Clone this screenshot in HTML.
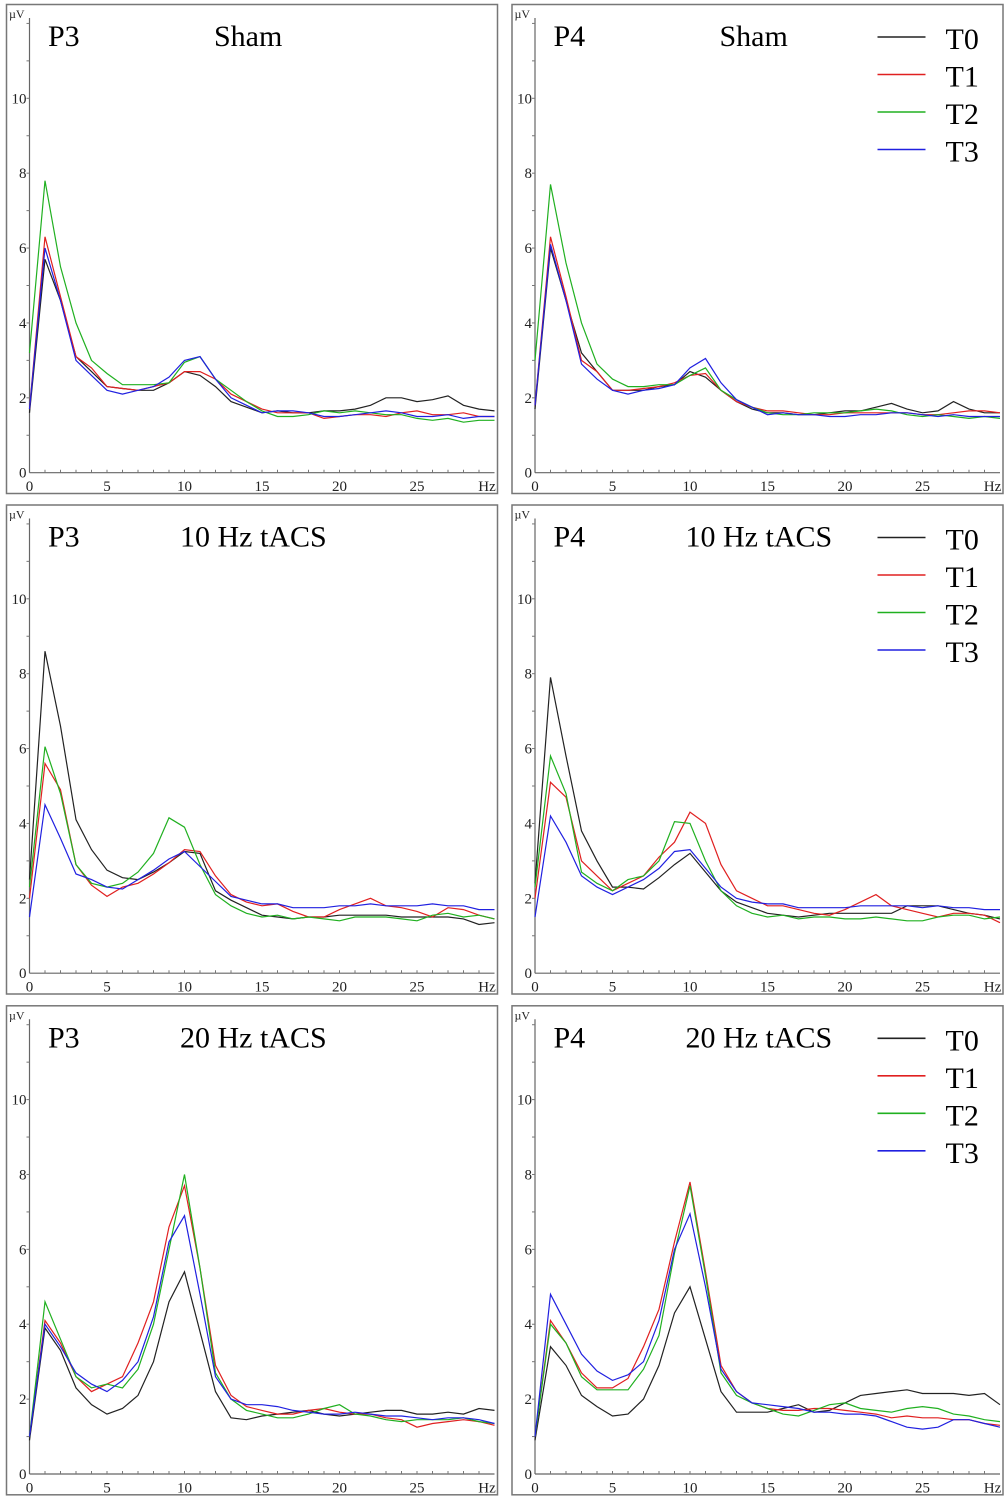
<!DOCTYPE html>
<html><head><meta charset="utf-8">
<style>
html,body{margin:0;padding:0;background:#fff;}
svg{display:block;font-family:"Liberation Serif","Times New Roman",serif;}
text{font-family:"Liberation Serif","Times New Roman",serif;}
</style></head>
<body>
<svg id="chart" width="1005" height="1501" viewBox="0 0 1005 1501" font-family="Liberation Serif, serif"></svg>
<script>
const freqs = [0,1,2,3,4,5,6,7,8,9,10,11,12,13,14,15,16,17,18,19,20,21,22,23,24,25,26,27,28,29,30];
const xTicks = [0,5,10,15,20,25];
const yTicks = [0,2,4,6,8,10];
const seriesNames = ["T0","T1","T2","T3"];
const seriesColors = ["#222222","#e02020","#20b020","#2020e0"];

const p3ShamT0 = [1.6,5.7,4.6,3.1,2.7,2.3,2.25,2.2,2.2,2.4,2.7,2.6,2.3,1.9,1.75,1.6,1.65,1.6,1.6,1.65,1.65,1.7,1.8,2.0,2.0,1.9,1.95,2.05,1.8,1.7,1.65];
const p3ShamT1 = [1.7,6.3,4.7,3.1,2.8,2.3,2.25,2.2,2.3,2.4,2.7,2.7,2.5,2.1,1.9,1.7,1.6,1.6,1.6,1.45,1.5,1.55,1.55,1.5,1.6,1.65,1.55,1.55,1.6,1.5,1.5];
const p3ShamT2 = [3.2,7.8,5.5,4.0,3.0,2.65,2.35,2.35,2.35,2.4,2.95,3.1,2.5,2.2,1.9,1.65,1.5,1.5,1.55,1.65,1.6,1.65,1.6,1.55,1.55,1.45,1.4,1.45,1.35,1.4,1.4];
const p3ShamT3 = [1.7,6.0,4.6,3.0,2.6,2.2,2.1,2.2,2.3,2.55,3.0,3.1,2.5,2.0,1.8,1.6,1.65,1.65,1.6,1.5,1.5,1.55,1.6,1.65,1.6,1.5,1.5,1.55,1.45,1.5,1.5];

const p4ShamT0 = [1.7,6.0,4.6,3.2,2.7,2.2,2.2,2.2,2.3,2.35,2.7,2.55,2.2,1.9,1.7,1.6,1.6,1.55,1.55,1.6,1.65,1.65,1.75,1.85,1.7,1.6,1.65,1.9,1.7,1.6,1.6];
const p4ShamT1 = [1.8,6.3,4.7,3.0,2.7,2.2,2.2,2.25,2.3,2.4,2.6,2.65,2.2,1.9,1.75,1.65,1.65,1.6,1.55,1.55,1.6,1.6,1.6,1.6,1.6,1.55,1.55,1.6,1.65,1.65,1.6];
const p4ShamT2 = [3.0,7.7,5.6,4.0,2.9,2.5,2.3,2.3,2.35,2.35,2.6,2.8,2.2,1.95,1.75,1.6,1.55,1.55,1.6,1.6,1.6,1.65,1.7,1.65,1.55,1.5,1.55,1.5,1.45,1.5,1.45];
const p4ShamT3 = [1.8,6.1,4.6,2.9,2.5,2.2,2.1,2.2,2.25,2.35,2.8,3.05,2.4,1.95,1.75,1.55,1.6,1.55,1.55,1.5,1.5,1.55,1.55,1.6,1.6,1.55,1.5,1.55,1.5,1.5,1.5];

const p310T0 = [2.5,8.6,6.6,4.1,3.3,2.75,2.55,2.5,2.7,2.95,3.25,3.2,2.2,1.95,1.75,1.55,1.5,1.45,1.5,1.5,1.55,1.55,1.55,1.55,1.5,1.5,1.5,1.5,1.45,1.3,1.35];
const p310T1 = [2.0,5.6,4.9,2.9,2.35,2.05,2.3,2.4,2.65,2.95,3.3,3.25,2.6,2.1,1.9,1.8,1.85,1.65,1.5,1.5,1.7,1.85,2.0,1.8,1.75,1.65,1.5,1.75,1.7,1.55,1.45];
const p310T2 = [2.3,6.05,4.8,2.9,2.4,2.3,2.4,2.7,3.2,4.15,3.9,2.9,2.1,1.8,1.6,1.5,1.55,1.45,1.5,1.45,1.4,1.5,1.5,1.5,1.45,1.4,1.55,1.6,1.5,1.55,1.45];
const p310T3 = [1.5,4.5,3.6,2.65,2.5,2.3,2.25,2.5,2.75,3.05,3.25,2.85,2.45,2.05,1.95,1.85,1.85,1.75,1.75,1.75,1.8,1.8,1.85,1.8,1.8,1.8,1.85,1.8,1.8,1.7,1.7];

const p410T0 = [2.4,7.9,5.8,3.8,3.0,2.3,2.3,2.25,2.55,2.9,3.2,2.7,2.2,1.9,1.75,1.6,1.55,1.5,1.55,1.6,1.6,1.6,1.6,1.6,1.8,1.8,1.8,1.7,1.6,1.55,1.45];
const p410T1 = [2.0,5.1,4.7,3.0,2.6,2.2,2.4,2.6,3.1,3.5,4.3,4.0,2.9,2.2,2.0,1.8,1.8,1.7,1.6,1.55,1.7,1.9,2.1,1.8,1.7,1.6,1.5,1.6,1.6,1.55,1.35];
const p410T2 = [2.3,5.8,4.8,2.7,2.4,2.2,2.5,2.6,3.0,4.05,4.0,3.0,2.2,1.8,1.6,1.5,1.55,1.45,1.5,1.5,1.45,1.45,1.5,1.45,1.4,1.4,1.5,1.55,1.55,1.45,1.5];
const p410T3 = [1.5,4.2,3.5,2.6,2.3,2.1,2.3,2.5,2.8,3.25,3.3,2.8,2.3,2.0,1.9,1.85,1.85,1.75,1.75,1.75,1.75,1.8,1.8,1.8,1.8,1.75,1.8,1.75,1.75,1.7,1.7];

const p320T0 = [0.9,3.9,3.3,2.3,1.85,1.6,1.75,2.1,3.0,4.6,5.4,3.8,2.2,1.5,1.45,1.55,1.6,1.65,1.7,1.6,1.55,1.6,1.65,1.7,1.7,1.6,1.6,1.65,1.6,1.75,1.7];
const p320T1 = [1.0,4.1,3.5,2.6,2.2,2.4,2.6,3.5,4.6,6.6,7.7,5.5,2.9,2.1,1.8,1.7,1.6,1.6,1.7,1.75,1.65,1.6,1.6,1.5,1.45,1.25,1.35,1.4,1.45,1.4,1.3];
const p320T2 = [1.0,4.6,3.6,2.6,2.3,2.4,2.3,2.8,4.0,6.0,8.0,5.5,2.7,2.0,1.7,1.6,1.5,1.5,1.6,1.75,1.85,1.6,1.55,1.45,1.4,1.45,1.45,1.45,1.5,1.4,1.35];
const p320T3 = [1.0,4.0,3.4,2.7,2.4,2.2,2.5,3.0,4.2,6.2,6.9,4.8,2.6,2.0,1.85,1.85,1.8,1.7,1.65,1.6,1.6,1.65,1.6,1.55,1.55,1.5,1.45,1.5,1.5,1.45,1.35];

const p420T0 = [0.9,3.4,2.9,2.1,1.8,1.55,1.6,2.0,2.9,4.3,5.0,3.6,2.2,1.65,1.65,1.65,1.75,1.85,1.65,1.7,1.9,2.1,2.15,2.2,2.25,2.15,2.15,2.15,2.1,2.15,1.85];
const p420T1 = [1.0,4.1,3.5,2.7,2.3,2.3,2.55,3.4,4.4,6.2,7.8,5.4,2.9,2.2,1.9,1.75,1.7,1.7,1.75,1.75,1.7,1.65,1.6,1.5,1.55,1.5,1.5,1.45,1.45,1.35,1.3];
const p420T2 = [1.0,4.0,3.5,2.6,2.25,2.25,2.25,2.8,3.7,5.9,7.7,5.3,2.7,2.1,1.9,1.75,1.6,1.55,1.7,1.85,1.9,1.75,1.7,1.65,1.75,1.8,1.75,1.6,1.55,1.45,1.4];
const p420T3 = [1.0,4.8,4.0,3.2,2.75,2.5,2.65,3.0,4.1,6.0,6.95,5.0,2.8,2.2,1.9,1.85,1.8,1.75,1.65,1.65,1.6,1.6,1.55,1.4,1.25,1.2,1.25,1.45,1.45,1.35,1.25];

const NS = "http://www.w3.org/2000/svg";
const svg = document.getElementById("chart");
const FF = '"Liberation Serif", serif';
function mk(tag, attrs, parent, txt){
  const e = document.createElementNS(NS, tag);
  for (const k in attrs) e.setAttribute(k, attrs[k]);
  if (txt !== undefined) { e.textContent = txt; e.style.fontFamily = FF; }
  parent.appendChild(e);
  return e;
}
const X0 = 29.5, PXHZ = 15.5, Y0 = 472.7, PXUV = 37.44;
function xs(ox, f){ return ox + X0 + f*PXHZ; }
function ys(oy, v){ return oy + Y0 - v*PXUV; }

function panel(ox, oy, chan, cond, series, legend, id){
  const g = mk("g", {}, svg);
  
  
  const frame = mk("rect", {x:ox+6.5, y:oy+4.5, width:491, height:489, fill:"none", stroke:"#777", "stroke-width":1.5}, g);
  
  
  const yax = mk("line", {x1:xs(ox,0), y1:oy+18, x2:xs(ox,0), y2:ys(oy,0), stroke:"#666", "stroke-width":1.2}, g);
  
  
  const xax = mk("line", {x1:xs(ox,0), y1:ys(oy,0), x2:xs(ox,30), y2:ys(oy,0), stroke:"#666", "stroke-width":1.2}, g);
  
  
  for (let f=1; f<30; f++){
    mk("line", {x1:xs(ox,f), y1:ys(oy,0), x2:xs(ox,f), y2:ys(oy,0)-3, stroke:"#777", "stroke-width":1}, g);
  }
  for (let v=1; v<=12; v++){
    mk("line", {x1:xs(ox,0), y1:ys(oy,v), x2:xs(ox,0)-3, y2:ys(oy,v), stroke:"#777", "stroke-width":1}, g);
  }
  xTicks.forEach(t=>{
    const l = mk("text", {x:xs(ox,t), y:oy+491, "font-size":15, "text-anchor":"middle", fill:"#222"}, g, String(t));
    
    
  });
  const hz = mk("text", {x:ox+487, y:oy+491, "font-size":15, "text-anchor":"middle", fill:"#222"}, g, "Hz");
  
  
  yTicks.forEach(t=>{
    const l = mk("text", {x:xs(ox,0)-3, y:ys(oy,t)+5, "font-size":15, "text-anchor":"end", fill:"#222"}, g, String(t));
    
    
  });
  const uv = mk("text", {x:ox+9, y:oy+18, "font-size":12, fill:"#222"}, g, "µV");
  
  
  const t1 = mk("text", {x:ox+48, y:oy+46, "font-size":30, fill:"#000"}, g, chan);
  
  
  const t2 = mk("text", {x:ox+(cond==="Sham"?214:180), y:oy+46, "font-size":30, fill:"#000"}, g, cond);
  
  
  series.forEach((vals, i)=>{
    const pts = vals.map((v, j)=> xs(ox, freqs[j]).toFixed(1)+","+ys(oy, v).toFixed(1)).join(" ");
    const pl = mk("polyline", {points:pts, fill:"none", stroke:seriesColors[i], "stroke-width":1.2}, g);
    
    
  });
  if (legend){
    seriesNames.forEach((n, i)=>{
      const yy = oy + 37 + i*37.5;
      const ll = mk("line", {x1:ox+372, y1:yy, x2:ox+420, y2:yy, stroke:seriesColors[i], "stroke-width":1.6}, g);
      
      
      const lt = mk("text", {x:ox+440, y:yy+12, "font-size":30, fill:"#000"}, g, n);
      
      
    });
  }
}
panel(0, 0, "P3", "Sham", [p3ShamT0,p3ShamT1,p3ShamT2,p3ShamT3], false, "p3-sham");
panel(505.5, 0, "P4", "Sham", [p4ShamT0,p4ShamT1,p4ShamT2,p4ShamT3], true, "p4-sham");
panel(0, 500.5, "P3", "10 Hz tACS", [p310T0,p310T1,p310T2,p310T3], false, "p3-10hz");
panel(505.5, 500.5, "P4", "10 Hz tACS", [p410T0,p410T1,p410T2,p410T3], true, "p4-10hz");
panel(0, 1001.3, "P3", "20 Hz tACS", [p320T0,p320T1,p320T2,p320T3], false, "p3-20hz");
panel(505.5, 1001.3, "P4", "20 Hz tACS", [p420T0,p420T1,p420T2,p420T3], true, "p4-20hz");
</script>
</body></html>
